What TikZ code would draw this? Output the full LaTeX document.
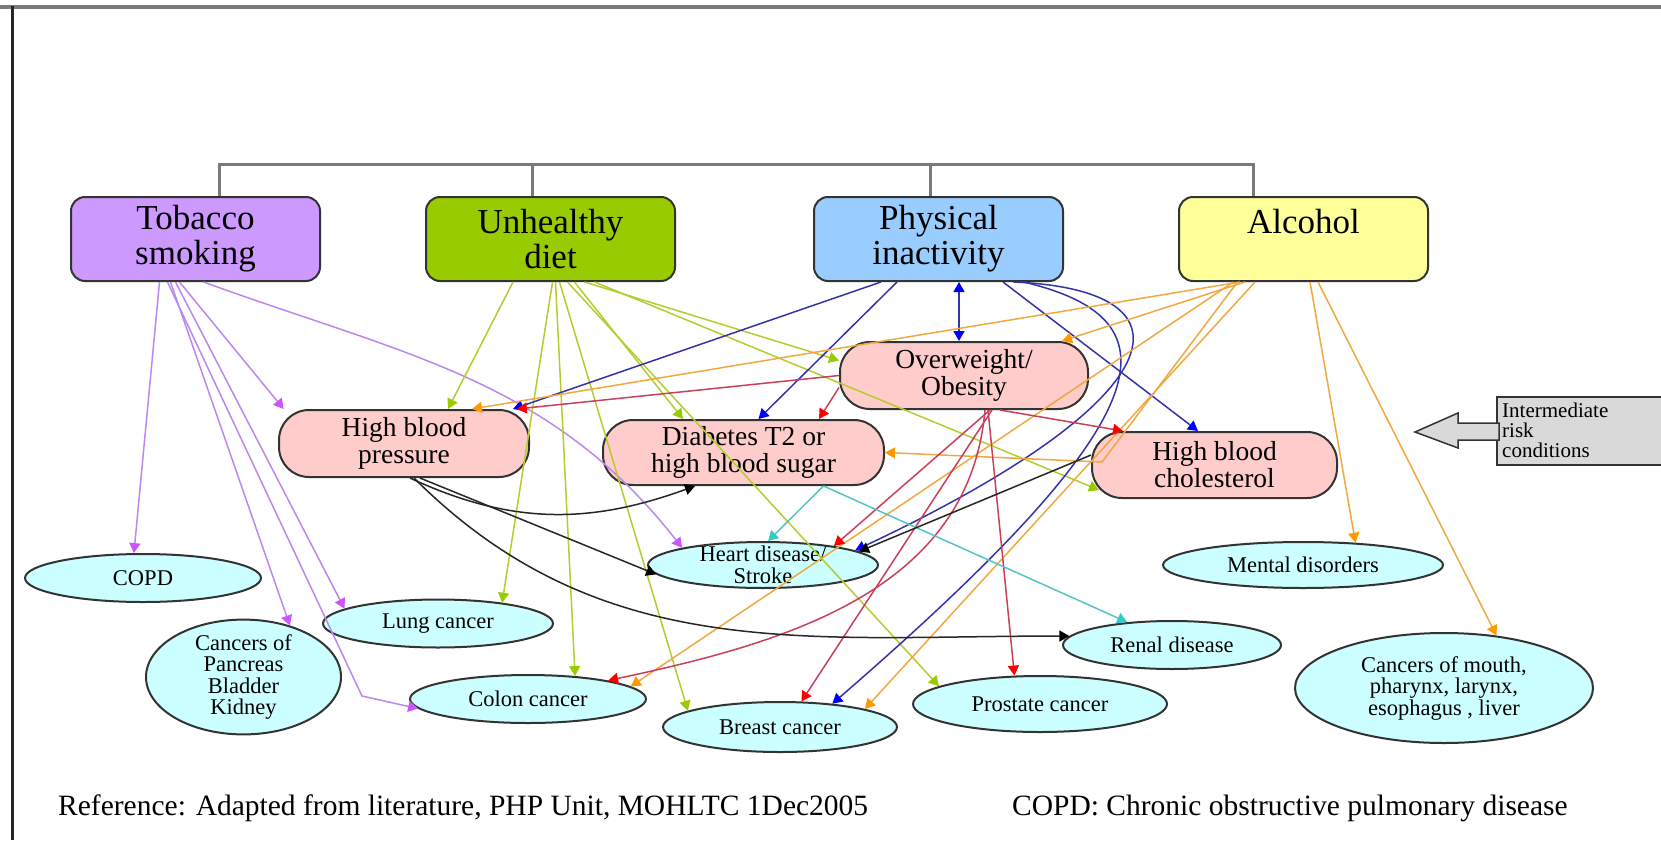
\documentclass[tikz,border=0pt]{standalone}
\usepackage{fontspec}
\setmainfont{Liberation Serif}
\usetikzlibrary{shapes.geometric,arrows.meta}
\definecolor{tobfill}{HTML}{CC99FF}
\definecolor{dietfill}{HTML}{99CC00}
\definecolor{physfill}{HTML}{99CCFF}
\definecolor{alcfill}{HTML}{FFFF99}
\definecolor{condfill}{HTML}{FFCCCC}
\definecolor{outfill}{HTML}{CCFFFF}
\definecolor{boxline}{HTML}{333333}
\definecolor{barline}{HTML}{7A7A7A}
\definecolor{calloutfill}{HTML}{D9D9D9}
\definecolor{tobline}{HTML}{BB88EE}
\definecolor{tobhead}{HTML}{CC55FF}
\definecolor{dietline}{HTML}{B5CC2E}
\definecolor{diethead}{HTML}{99CC00}
\definecolor{physline}{HTML}{3333AA}
\definecolor{physhead}{HTML}{0000FF}
\definecolor{alcline}{HTML}{F0A840}
\definecolor{alchead}{HTML}{FF9900}
\definecolor{obesline}{HTML}{C8405A}
\definecolor{obeshead}{HTML}{FF0000}
\definecolor{diabline}{HTML}{55C4C4}
\definecolor{diabhead}{HTML}{33CCCC}

\begin{document}
\begin{tikzpicture}[x=1pt, y=-1pt,
  riskbox/.style={draw=boxline, line width=2pt, rounded corners=14pt, minimum width=249pt, minimum height=84pt, align=center, font=\fontsize{35}{35}\selectfont},
  condbox/.style={draw=boxline, line width=2pt, fill=condfill, rounded corners=30pt, align=center, font=\fontsize{27.5}{27}\selectfont},
  outcome/.style={ellipse, draw=boxline, line width=2pt, fill=outfill, inner sep=0pt, align=center, font=\fontsize{22.5}{21.5}\selectfont},
  cause/.style 2 args={line width=1.5pt, draw=#1, -{Triangle[length=10pt,width=11pt,color=#2]}},
  fromtob/.style={cause={tobline}{tobhead}},
  fromdiet/.style={cause={dietline}{diethead}},
  fromphys/.style={cause={physline}{physhead}},
  fromalc/.style={cause={alcline}{alchead}},
  fromobes/.style={cause={obesline}{obeshead}},
  fromdiab/.style={cause={diabline}{diabhead}},
  fromhbp/.style={cause={black!85}{black}},
  bar/.style={line width=3pt, draw=barline}]
\useasboundingbox (0,0) rectangle (1661,840);
% frame
\draw[line width=4pt, barline] (0,7) -- (1661,7);
\draw[line width=3pt, black!85] (12,6) -- (12,840);

% risk factors
\node[riskbox, fill=tobfill] (tob) at (195.5,239) {Tobacco\\smoking};
\node[riskbox, fill=dietfill] (diet) at (550.5,239) {Unhealthy\\diet};
\node[riskbox, fill=physfill] (phys) at (938.5,239) {Physical\\inactivity};
\node[riskbox, fill=alcfill] (alc) at (1303.5,239) {Alcohol\\\mbox{}};
\draw[bar] (219,164) -- (1253,164);
\foreach \n/\dx in {tob/23.5, diet/-18.5, phys/-8.5, alc/-50.5}
  \draw[bar] ([xshift=\dx pt]\n.north) -- ++(0,-33);

% intermediate risk conditions
\node[condbox, minimum width=250pt, minimum height=67pt] (hbp) at (404,443.5) {High blood\\pressure};
\node[condbox, minimum width=281pt, minimum height=65pt] (diab) at (743.5,452.5) {Diabetes T2 or\\high blood sugar};
\node[condbox, minimum width=248pt, minimum height=67pt] (obes) at (964,375.5) {Overweight/\\Obesity};
\node[condbox, minimum width=245pt, minimum height=66pt] (chol) at (1214.5,465) {High blood\\cholesterol};

% outcomes
\node[outcome, minimum width=236pt, minimum height=48pt] (copd) at (143,578) {COPD};
\node[outcome, minimum width=195pt, minimum height=114pt, inner ysep=-2pt] (panc) at (243.5,677) {Cancers of\\Pancreas\\Bladder\\Kidney};
\node[outcome, minimum width=230pt, minimum height=48pt] (lung) at (438,623.5) {Lung cancer};
\node[outcome, minimum width=236pt, minimum height=48pt] (colon) at (528,699) {Colon cancer};
\node[outcome, minimum width=230pt, minimum height=46pt, inner ysep=-5pt] (heart) at (763,565) {Heart disease/\\Stroke};
\node[outcome, minimum width=234pt, minimum height=50pt] (breast) at (780,727) {Breast cancer};
\node[outcome, minimum width=254pt, minimum height=56pt] (prost) at (1040,704) {Prostate cancer};
\node[outcome, minimum width=218pt, minimum height=48pt] (renal) at (1172,645) {Renal disease};
\node[outcome, minimum width=280pt, minimum height=46pt] (mental) at (1303,565) {Mental disorders};
\node[outcome, minimum width=298pt, minimum height=110pt] (mouth) at (1444,688) {Cancers of mouth,\\pharynx, larynx,\\esophagus , liver};

% bends of two connectors
\coordinate (tobbend) at (362,696);
\coordinate (alcbend) at (1102,462);

% tobacco smoking
\draw[fromtob] ([xshift=-36pt]tob.south) -- (copd.110);
\draw[fromtob] ([xshift=-16pt]tob.south) -- (hbp.164);
\draw[fromtob] ([xshift=-20pt]tob.south) -- (lung.171);
\draw[fromtob] ([xshift=-25pt]tob.south) -- (panc.48);
\draw[fromtob] ([xshift=-28pt]tob.south) -- (tobbend) -- (colon.185);
\draw[fromtob] ([xshift=8pt]tob.south) to[out=-20,in=128] (heart.168);

% unhealthy diet
\draw[fromdiet] ([xshift=-37.5pt]diet.south) -- ([xshift=44pt]hbp.north);
\draw[fromdiet] ([xshift=2pt]diet.south) -- (lung.18);
\draw[fromdiet] ([xshift=5pt]diet.south) -- (colon.26);
\draw[fromdiet] ([xshift=9pt]diet.south) -- (breast.170);
\draw[fromdiet] ([xshift=17pt]diet.south) -- (prost.170);
\draw[fromdiet] ([xshift=24pt]diet.south) -- ([xshift=-60.5pt]diab.north);
\draw[fromdiet] ([xshift=34pt]diet.south) -- ([yshift=15pt]obes.west);
\draw[fromdiet] ([xshift=44pt]diet.south) -- ([xshift=8pt,yshift=-25pt]chol.west);

% physical inactivity
\draw[fromphys] ([xshift=-57.5pt]phys.south) -- ([xshift=109pt]hbp.north);
\draw[fromphys] ([xshift=-41.5pt]phys.south) -- ([xshift=15pt]diab.north);
\draw[fromphys, {Triangle[length=10pt,width=11pt,color=physhead]}-{Triangle[length=10pt,width=11pt,color=physhead]}] ([xshift=20.5pt]phys.south) -- ([xshift=-5pt]obes.north);
\draw[fromphys] ([xshift=64.5pt]phys.south) -- ([xshift=-16.5pt]chol.north);
\draw[fromphys] ([xshift=75pt]phys.south) .. controls (1205,290) and (1175,400) .. (heart.9);
\draw[fromphys] ([xshift=85pt]phys.south) .. controls (1185,320) and (1160,420) .. (breast.24);

% alcohol
\draw[fromalc] ([xshift=-63.5pt]alc.south) -- ([xshift=68pt]hbp.north);
\draw[fromalc] ([xshift=-58.5pt]alc.south) -- ([xshift=98pt]obes.north);
\draw[fromalc] ([xshift=-66pt]alc.south) -- (alcbend) -- (diab.east);
\draw[fromalc] ([xshift=-70pt]alc.south) -- (colon.7);
\draw[fromalc] ([xshift=-48.5pt]alc.south) -- (breast.12);
\draw[fromalc] ([xshift=6.5pt]alc.south) -- (mental.23);
\draw[fromalc] ([xshift=14.5pt]alc.south) -- (mouth.45);

% overweight / obesity
\draw[fromobes] (obes.west) -- (hbp.17);
\draw[fromobes] ([yshift=-12pt]obes.west) -- ([xshift=75.5pt]diab.north);
\draw[fromobes] ([xshift=36pt]obes.south) -- ([xshift=-91.5pt]chol.north);
\draw[fromobes] ([xshift=26pt]obes.south) -- (heart.15);
\draw[fromobes] ([xshift=21pt]obes.south) to[out=-95,in=12] (colon.13);
\draw[fromobes] ([xshift=28pt]obes.south) -- (breast.50);
\draw[fromobes] ([xshift=24pt]obes.south) -- (prost.132);

% high blood pressure, diabetes, cholesterol
\draw[fromhbp] ([xshift=6pt]hbp.south) to[out=-25,in=-160] ([xshift=-48.5pt]diab.south);
\draw[fromhbp] ([xshift=16pt]hbp.south) -- (heart.185);
\draw[fromhbp] ([xshift=10pt]hbp.south) to[out=-45,in=180] (renal.175);
\draw[fromdiab] ([xshift=80pt]diab.south) -- (heart.78);
\draw[fromdiab] ([xshift=80pt]diab.south) -- (renal.153);
\draw[fromhbp] ([yshift=10pt]chol.west) -- (heart.8);

% callout
\draw[draw=boxline, line width=2pt, fill=calloutfill] (1497,397) rectangle (1672,465);
\draw[draw=boxline, line width=1.5pt, fill=calloutfill] (1415,432) -- (1458,413) -- (1458,423) -- (1499,423) -- (1499,440) -- (1458,440) -- (1458,448) -- cycle;
\node[anchor=north west, inner sep=0pt, align=left, font=\fontsize{21}{20}\selectfont] (callout) at (1502,403) {Intermediate\\risk\\conditions};

% notes
\node[anchor=base west, inner sep=0pt, font=\fontsize{29.5}{30}\selectfont] (refnote) at (58,815) {Reference: Adapted from literature, PHP Unit, MOHLTC 1Dec2005};
\node[anchor=base west, inner sep=0pt, font=\fontsize{29.5}{30}\selectfont] (copdnote) at (1012,815) {COPD: Chronic obstructive pulmonary disease};
\end{tikzpicture}
\end{document}
